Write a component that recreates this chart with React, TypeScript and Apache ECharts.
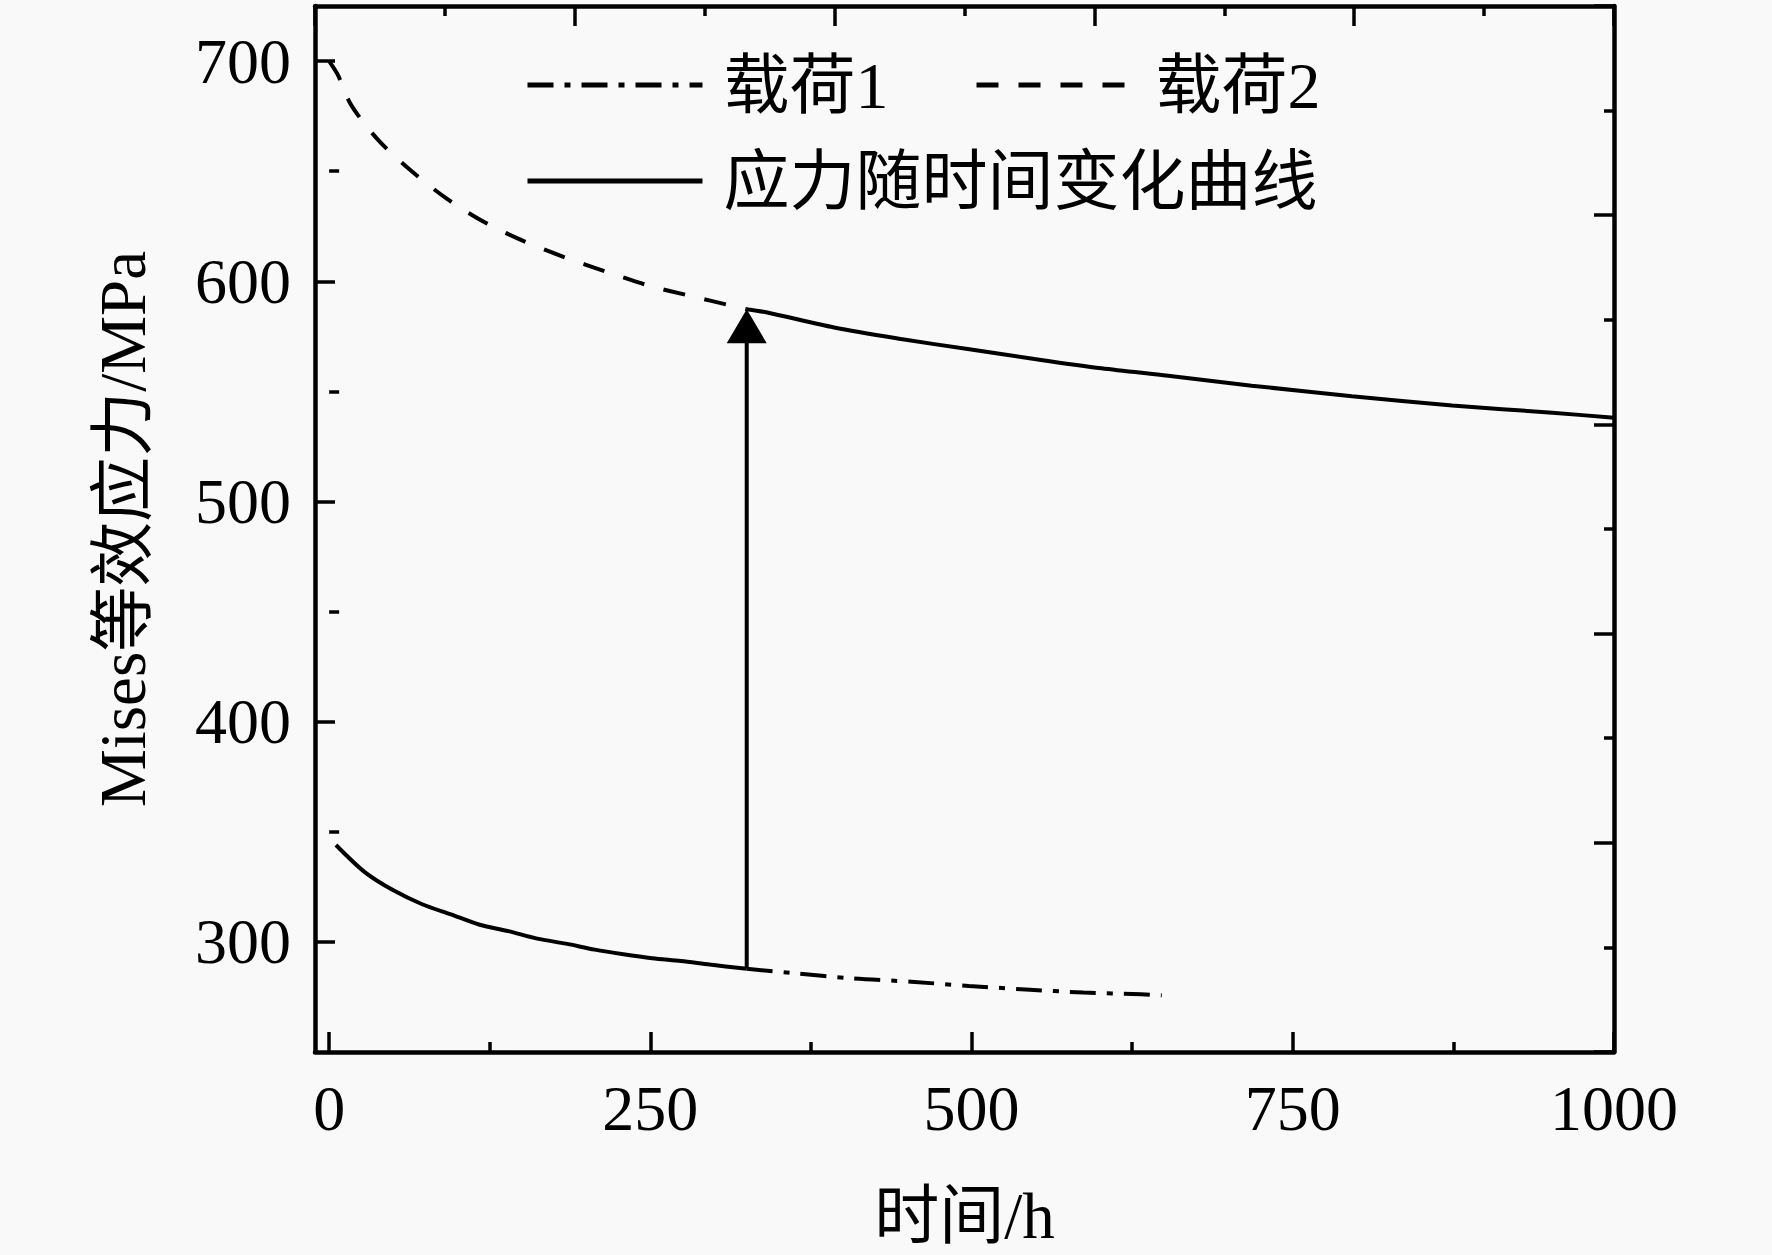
import React, { useEffect, useRef } from 'react';
import * as echarts from 'echarts';

// ---- data ----
const xMajorTicks = [0, 250, 500, 750, 1000];
const xMinorTicks = [125, 375, 625, 875];
const yMajorTicks = [300, 400, 500, 600, 700];
const yMinorTicks = [350, 450, 550, 650];

const legendLoad1 = ['载荷1'];
const legendLoad2 = ['载荷2'];
const legendStress = ['应力随时间变化曲线'];

// 载荷1 (dash-dot), visible beyond the switch time
const load1 = [
  [325, 287.8], [363, 285.7], [408, 283.4], [453, 281.9], [498, 280.0],
  [542, 278.4], [587, 277.0], [632, 276.2], [648, 275.7],
];
// 载荷2 (dashed), visible before the switch time
const load2 = [
  [0, 700], [6.8, 693.7], [17.2, 680.0], [38.1, 664.2], [63.4, 650.4],
  [91.8, 637.4], [121, 626.8], [151.5, 618.2], [183.7, 610.8], [215, 604.5],
  [247.8, 598.2], [280.6, 593.4], [312.6, 589.0], [325, 587.3],
];
// 应力随时间变化曲线 (solid): lower part under load 1
const stressLower = [
  [5.3, 344], [27.7, 331.7], [50, 323.4], [72.4, 317.1], [94.8, 312.5],
  [117.2, 307.8], [139.5, 304.9], [161.9, 301.5], [184.3, 299.2], [206.7, 296.5],
  [229, 294.4], [251.4, 292.6], [273.8, 291.3], [296.2, 289.7], [325, 287.8],
];
// jump at the load change
const stressJump = [[325, 287.8], [325, 580]];
const arrowHead = [[325, 579.6]];
// upper part under load 2
const stressUpper = [
  [325, 587.3], [341, 585.8], [393, 579.0], [445, 573.8], [497, 569.2],
  [549, 564.7], [601, 560.5], [653, 557.1], [718, 552.6], [796, 547.8],
  [874, 543.6], [952, 540.3], [1000, 538.0],
];

const FONT = "'Liberation Serif', 'Times New Roman', 'Noto Sans CJK SC', serif";
const INK = '#000';
const LW = 4;

export default function App() {
  const ref = useRef<HTMLDivElement>(null);
  useEffect(() => {
    document.body.style.margin = '0';
    const chart = echarts.init(ref.current!, null, { renderer: 'svg' });
    const axisLine = { show: true, onZero: false, lineStyle: { color: INK, width: 4.5 } };
    const tickOnly = (vals: number[], len: number) => ({
      show: true, inside: true, length: len, customValues: vals,
      lineStyle: { color: INK, width: 3.5 },
    });
    const legendText = {
      fontFamily: FONT, fontSize: 66, color: INK, lineHeight: 70, padding: [0, 0, 0, 16],
    };
    const legendBase = {
      padding: 0, itemHeight: 20, selectedMode: false,
      itemStyle: { color: 'rgba(0,0,0,0)', borderColor: 'rgba(0,0,0,0)', borderWidth: 0 },
      lineStyle: { width: 5, color: INK },
      textStyle: legendText,
    };
    const option: any = {
      animation: false,
      backgroundColor: '#f9f9f9',
      grid: { left: 315, right: 158, top: 6, bottom: 203, containLabel: false },
      legend: [
        { ...legendBase, data: legendLoad1, left: 525, top: 50, itemWidth: 175 },
        { ...legendBase, data: legendLoad2, left: 974, top: 50, itemWidth: 158 },
        { ...legendBase, data: legendStress, left: 525, top: 146, itemWidth: 175 },
      ],
      xAxis: [
        {
          type: 'value', position: 'bottom', min: -11, max: 1000,
          axisLine, splitLine: { show: false },
          axisTick: tickOnly(xMajorTicks, 20),
          axisLabel: {
            customValues: xMajorTicks, fontFamily: FONT, fontSize: 64, color: INK, margin: 24,
            formatter: (v: number) => String(v),
          },
          name: '时间/h', nameLocation: 'middle', nameGap: 131,
          nameTextStyle: { fontFamily: FONT, fontSize: 65, color: INK },
        },
        {
          type: 'value', position: 'bottom', min: -11, max: 1000,
          axisLine: { show: false }, splitLine: { show: false },
          axisTick: tickOnly(xMinorTicks, 10),
          axisLabel: { show: false },
        },
        {
          type: 'value', position: 'top', min: 0, max: 5, interval: 1,
          axisLine, splitLine: { show: false },
          axisTick: { show: true, inside: true, length: 20, lineStyle: { color: INK, width: 3.5 } },
          minorTick: { show: true, splitNumber: 2, length: 10, lineStyle: { color: INK, width: 3.5 } },
          axisLabel: { show: false },
        },
      ],
      yAxis: [
        {
          type: 'value', position: 'left', min: 250, max: 725,
          axisLine, splitLine: { show: false },
          axisTick: tickOnly(yMajorTicks, 20),
          axisLabel: {
            customValues: yMajorTicks, fontFamily: FONT, fontSize: 64, color: INK, margin: 24,
            formatter: (v: number) => String(v),
          },
          name: 'Mises等效应力/MPa', nameLocation: 'middle', nameGap: 160, nameRotate: 90,
          nameTextStyle: { fontFamily: FONT, fontSize: 65, color: INK },
        },
        {
          type: 'value', position: 'left', min: 250, max: 725,
          axisLine: { show: false }, splitLine: { show: false },
          axisTick: tickOnly(yMinorTicks, 10),
          axisLabel: { show: false },
        },
        {
          type: 'value', position: 'right', min: 0, max: 5, interval: 1,
          axisLine, splitLine: { show: false },
          axisTick: { show: true, inside: true, length: 20, lineStyle: { color: INK, width: 3.5 } },
          minorTick: { show: true, splitNumber: 2, length: 10, lineStyle: { color: INK, width: 3.5 } },
          axisLabel: { show: false },
        },
      ],
      series: [
        {
          name: '载荷1', type: 'line', data: load1, symbol: 'none', smooth: 0.3,
          lineStyle: { color: INK, width: LW, type: [26, 11, 6, 11] }, itemStyle: { color: INK }, z: 2,
        },
        {
          name: '载荷2', type: 'line', data: load2, symbol: 'none', smooth: 0.3,
          lineStyle: { color: INK, width: LW, type: [22, 20] }, itemStyle: { color: INK }, z: 2,
        },
        {
          name: '应力随时间变化曲线', type: 'line', data: stressLower, symbol: 'none', smooth: 0.3,
          lineStyle: { color: INK, width: LW, type: 'solid' }, itemStyle: { color: INK }, z: 3,
        },
        {
          name: '应力随时间变化曲线', type: 'line', data: stressUpper, symbol: 'none', smooth: 0.3,
          lineStyle: { color: INK, width: LW, type: 'solid' }, itemStyle: { color: INK }, z: 3,
        },
        {
          name: 'jump', type: 'line', data: stressJump, symbol: 'none',
          lineStyle: { color: INK, width: LW }, z: 3,
        },
        {
          name: 'arrow', type: 'scatter', data: arrowHead, symbol: 'triangle', symbolSize: [40, 34],
          itemStyle: { color: INK, opacity: 1 }, z: 4,
        },
      ],
    };
    chart.setOption(option);
    return () => chart.dispose();
  }, []);
  return <div ref={ref} style={{ width: 1772, height: 1255 }} />;
}
